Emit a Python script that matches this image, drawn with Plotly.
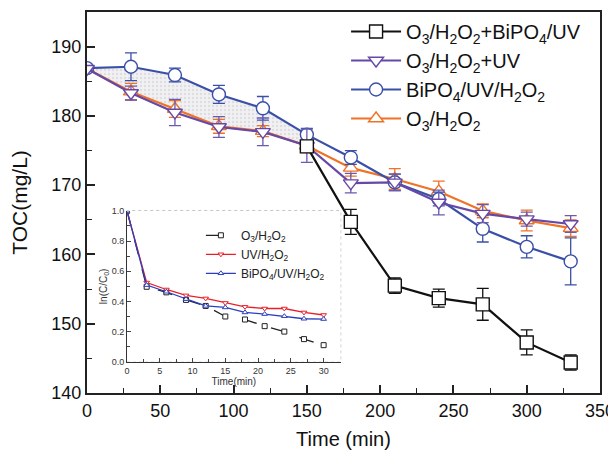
import plotly.graph_objects as go

# ---------------- data ----------------
time = [0, 30, 60, 90, 120, 150, 180, 210, 240, 270, 300, 330]

time_black = [150, 180, 210, 240, 270, 300, 330]
toc_o3_h2o2_bipo4_uv = [175.6, 164.7, 155.5, 153.7, 152.8, 147.3, 144.4]
err_o3_h2o2_bipo4_uv = [0.4, 1.8, 1.1, 1.3, 2.3, 1.8, 1.1]

toc_o3_h2o2_uv = [186.8, 183.3, 180.5, 178.4, 177.7, 175.7, 170.3, 170.4, 167.5, 165.9, 165.1, 164.4]
err_o3_h2o2_uv = [0.0, 1.0, 1.9, 1.5, 2.0, 2.4, 1.4, 1.2, 1.8, 1.3, 1.0, 1.2]

toc_bipo4_uv_h2o2 = [186.9, 187.1, 185.9, 183.1, 181.1, 177.3, 174.0, 170.4, 168.0, 163.7, 161.1, 159.0]
err_bipo4_uv_h2o2 = [0.0, 2.0, 1.0, 1.3, 1.7, 0.9, 1.0, 1.2, 1.0, 1.9, 1.6, 3.4]

toc_o3_h2o2 = [186.8, 183.5, 181.0, 178.5, 177.8, 175.7, 172.5, 170.9, 169.1, 166.3, 164.9, 163.8]
err_o3_h2o2 = [0.0, 1.2, 1.2, 1.0, 0.8, 1.0, 1.2, 1.5, 1.5, 1.0, 1.5, 1.2]

inset_time = [0, 3, 6, 9, 12, 15, 18, 21, 24, 27, 30]
inset_o3_h2o2 = [1.0, 0.497, 0.46, 0.41, 0.37, 0.30, 0.28, 0.236, 0.20, 0.15, 0.11]
inset_uv_h2o2 = [1.0, 0.525, 0.479, 0.44, 0.42, 0.39, 0.364, 0.353, 0.353, 0.327, 0.31]
inset_bipo4_uv_h2o2 = [1.0, 0.508, 0.464, 0.415, 0.37, 0.36, 0.327, 0.316, 0.302, 0.285, 0.283]

names = ["O<sub>3</sub>/H<sub>2</sub>O<sub>2</sub>+BiPO<sub>4</sub>/UV",
         "O<sub>3</sub>/H<sub>2</sub>O<sub>2</sub>+UV",
         "BiPO<sub>4</sub>/UV/H<sub>2</sub>O<sub>2</sub>",
         "O<sub>3</sub>/H<sub>2</sub>O<sub>2</sub>"]
inset_names = ["O<sub>3</sub>/H<sub>2</sub>O<sub>2</sub>",
               "UV/H<sub>2</sub>O<sub>2</sub>",
               "BiPO<sub>4</sub>/UV/H<sub>2</sub>O<sub>2</sub>"]

BLACK = "#111111"
PURPLE = "#6649a6"
BLUE = "#3a50a8"
ORANGE = "#f07224"

fig = go.Figure()

# shaded band between the two upper curves (0-150 min)
n_shade = 6
fig.add_trace(go.Scatter(x=time[:n_shade], y=toc_o3_h2o2_uv[:n_shade], mode="lines",
                         line=dict(width=0), showlegend=False, hoverinfo="skip"))
fig.add_trace(go.Scatter(x=time[:n_shade], y=toc_bipo4_uv_h2o2[:n_shade], mode="lines",
                         line=dict(width=0), fill="tonexty",
                         fillcolor="rgba(215,215,220,0.35)",
                         fillpattern=dict(shape=".", fgcolor="#c8c8d0", size=4, solidity=0.3),
                         showlegend=False, hoverinfo="skip"))

def main_trace(x, y, e, name, color, symbol, ecolor):
    return go.Scatter(
        x=x, y=y, name=name, mode="lines+markers",
        line=dict(color=color, width=2.2),
        marker=dict(symbol=symbol, size=13, color="white", line=dict(color=color, width=1.4)),
        error_y=dict(type="data", array=e, visible=True, color=ecolor, thickness=1.3, width=6),
        legend="legend",
    )

fig.add_trace(main_trace(time, toc_o3_h2o2, err_o3_h2o2, names[3], ORANGE, "triangle-up", ORANGE))
fig.add_trace(main_trace(time, toc_bipo4_uv_h2o2, err_bipo4_uv_h2o2, names[2], BLUE, "circle", BLUE))
fig.add_trace(main_trace(time, toc_o3_h2o2_uv, err_o3_h2o2_uv, names[1], PURPLE, "triangle-down", "#6a5ab0"))
fig.add_trace(main_trace(time_black, toc_o3_h2o2_bipo4_uv, err_o3_h2o2_bipo4_uv, names[0], BLACK, "square", BLACK))

# inset
def inset_trace(y, name, color, symbol, dash):
    return go.Scatter(
        x=inset_time, y=y, name=name, mode="lines+markers",
        line=dict(color=color, width=1.3, dash=dash),
        marker=dict(symbol=symbol, size=5, color="white", line=dict(color=color, width=1)),
        xaxis="x2", yaxis="y2", legend="legend2",
    )

fig.add_trace(inset_trace(inset_o3_h2o2, inset_names[0], "#222222", "square", "longdash"))
fig.add_trace(inset_trace(inset_uv_h2o2, inset_names[1], "#e8202a", "triangle-down", "solid"))
fig.add_trace(inset_trace(inset_bipo4_uv_h2o2, inset_names[2], "#2a3fc0", "triangle-up", "solid"))

FONT = "Liberation Sans, Arial, sans-serif"

# the page body adds an 8px margin, so the figure is sized to fit the 616x454 window
fig.update_layout(
    width=608, height=446,
    margin=dict(l=79, r=16, t=4, b=61, autoexpand=False),
    paper_bgcolor="white", plot_bgcolor="white",
    font=dict(family=FONT, color="#111"),
    xaxis=dict(range=[0, 350], tickvals=[0, 50, 100, 150, 200, 250, 300, 350],
               ticks="inside", ticklen=8, tickwidth=1.5, tickcolor="#222",
               minor=dict(ticks="inside", ticklen=5, dtick=25, tickcolor="#222", tickwidth=1.2),
               showline=True, linecolor="#222", linewidth=2, mirror=True,
               showgrid=False, zeroline=False,
               tickfont=dict(size=18, family=FONT),
               title=dict(text="Time (min)", font=dict(size=20, family=FONT), standoff=12),
               domain=[0, 1]),
    yaxis=dict(range=[140, 195], tickvals=[140, 150, 160, 170, 180, 190],
               ticks="inside", ticklen=8, tickwidth=1.5, tickcolor="#222",
               minor=dict(ticks="inside", ticklen=5, dtick=5, tickcolor="#222", tickwidth=1.2),
               showline=True, linecolor="#222", linewidth=2, mirror=True,
               showgrid=False, zeroline=False,
               tickfont=dict(size=18, family=FONT),
               title=dict(text="TOC(mg/L)", font=dict(size=21, family=FONT), standoff=18)),
    xaxis2=dict(domain=[0.078, 0.4945], anchor="y2", range=[0, 32.6],
                tickvals=[0, 5, 10, 15, 20, 25, 30], ticks="inside", ticklen=4,
                minor=dict(ticks="inside", ticklen=2.5, dtick=2.5),
                showline=True, linecolor="#333", linewidth=1,
                showgrid=False, zeroline=False,
                tickfont=dict(size=9, family=FONT, color="#333"),
                title=dict(text="Time(min)", font=dict(size=10, family=FONT, color="#333"), standoff=2)),
    yaxis2=dict(domain=[0.082, 0.478], anchor="x2", range=[0, 1.0],
                tickvals=[0, 0.2, 0.4, 0.6, 0.8, 1.0], tickformat=".1f",
                ticks="inside", ticklen=4,
                minor=dict(ticks="inside", ticklen=2.5, dtick=0.1),
                showline=True, linecolor="#333", linewidth=1,
                showgrid=False, zeroline=False,
                tickfont=dict(size=9, family=FONT, color="#333"),
                title=dict(text="ln(C/C<sub>0</sub>)", font=dict(size=10, family=FONT, color="#333"), standoff=2)),
    legend=dict(x=0.505, y=1.0, xanchor="left", yanchor="top",
                bgcolor="rgba(0,0,0,0)", borderwidth=0,
                font=dict(size=20, family=FONT, color="#111"),
                itemwidth=50, traceorder="reversed", tracegroupgap=0),
    legend2=dict(x=0.222, y=0.452, xanchor="left", yanchor="top",
                 bgcolor="rgba(0,0,0,0)", borderwidth=0,
                 font=dict(size=12, family=FONT, color="#222"),
                 itemwidth=30),
    shapes=[dict(type="rect", xref="paper", yref="paper", x0=0.078, x1=0.4945, y0=0.082, y1=0.478,
                 line=dict(color="#999", width=1, dash="dot"), layer="below")],
)

fig.write_html("out.html")
